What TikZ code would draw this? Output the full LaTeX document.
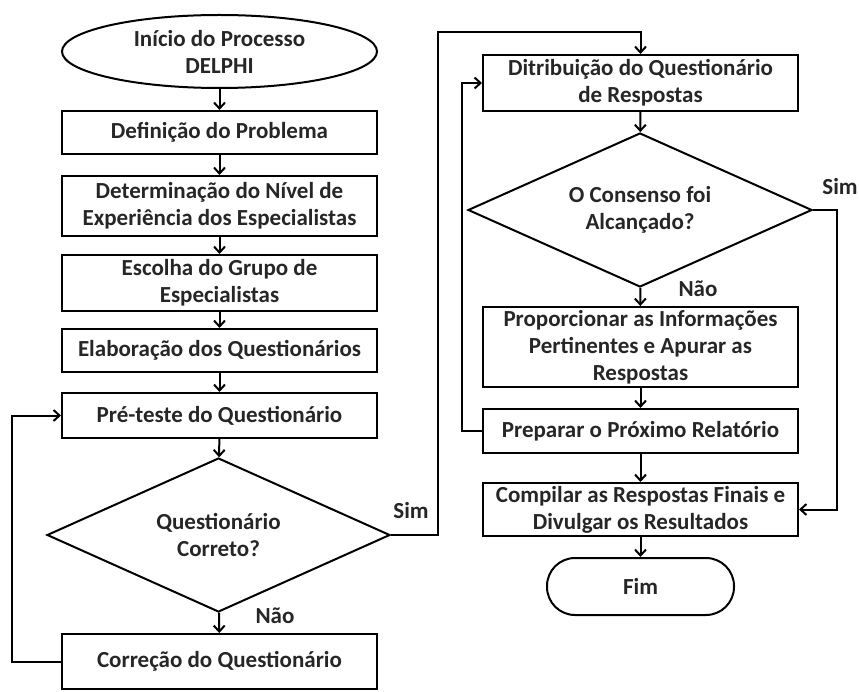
\documentclass[tikz,border=0pt]{standalone}
\usepackage{fontspec}
\setmainfont{Carlito}
\usetikzlibrary{shapes.geometric,arrows.meta}
\begin{document}
\begin{tikzpicture}[x=1pt,y=-1pt,
  every node/.style={font=\fontsize{23}{27}\selectfont\bfseries, inner sep=0pt, align=center, text=black!85},
  proc/.style={draw, line width=2pt, rectangle, minimum width=315pt},
  dec/.style={draw, line width=2pt, diamond, aspect=2.23, minimum width=343pt, minimum height=154pt},
  arr/.style={draw, line width=2pt, -{Straight Barb[length=6pt,width=11pt,line width=2pt]}},
  lin/.style={draw, line width=2pt}]
\useasboundingbox (0,0) rectangle (859,692);
% left column
\node[draw, line width=2pt, ellipse, minimum width=315pt, minimum height=73pt] (start) at (219.5,51.5) {Início do Processo\\DELPHI};
\node[proc, minimum height=43pt] (defn) at (219.5,132.5) {Definição do Problema};
\node[proc, minimum height=60pt] (det) at (219.5,206) {Determinação do Nível de\\Experiência dos Especialistas};
\node[proc, minimum height=56pt] (esc) at (219.5,283) {Escolha do Grupo de\\Especialistas};
\node[proc, minimum height=43pt] (elab) at (219.5,350.5) {Elaboração dos Questionários};
\node[proc, minimum height=45pt] (pre) at (219.5,415.5) {Pré-teste do Questionário};
\node[dec] (dec1) at (218.5,535) {Questionário\\Correto?};
\node[proc, minimum height=55pt] (corr) at (219.5,661.5) {Correção do Questionário};
% right column
\node[proc, minimum height=56pt] (dist) at (640.5,83) {Ditribuição do Questionário\\de Respostas};
\node[dec, minimum width=344pt] (dec2) at (640,210) {O Consenso foi\\Alcançado?};
\node[proc, minimum height=80pt] (prop) at (640.5,347) {Proporcionar as Informações\\Pertinentes e Apurar as\\Respostas};
\node[proc, minimum height=44pt] (prep) at (640.5,431) {Preparar o Próximo Relatório};
\node[proc, minimum height=53pt] (comp) at (640.5,509.5) {Compilar as Respostas Finais e\\Divulgar os Resultados};
\node[draw, line width=2pt, rectangle, rounded corners=28pt, minimum width=187pt, minimum height=57pt] (fim) at (640.5,586.5) {Fim};
% labels
\node (sim1) at (411,511) {Sim};
\node (nao1) at (275,616) {Não};
\node (sim2) at (840,187) {Sim};
\node (nao2) at (698,289) {Não};
% coordinates
\coordinate (t1) at (438,32);
\coordinate (l1) at (12,661.5);
\coordinate (l2) at (462,431);
\coordinate (r2) at (837,210);
% connectors
\draw[arr] (start) -- (defn);
\draw[arr] (defn) -- (det);
\draw[arr] (det) -- (esc);
\draw[arr] (esc) -- (elab);
\draw[arr] (elab) -- (pre);
\draw[arr] (pre) -- (dec1);
\draw[arr] (dec1) -- (corr);
\draw[arr] (corr.west) -- (l1) |- (pre.west);
\draw[arr] (dec1.east) -| (t1) -| (dist.north);
\draw[arr] (dist) -- (dec2);
\draw[arr] (dec2) -- (prop);
\draw[arr] (prop) -- (prep);
\draw[arr] (prep) -- (comp);
\draw[arr] (comp) -- (fim);
\draw[arr] (prep.west) -- (l2) |- (dist.west);
\draw[arr] (dec2.east) -- (r2) |- (comp.east);
\end{tikzpicture}
\end{document}
